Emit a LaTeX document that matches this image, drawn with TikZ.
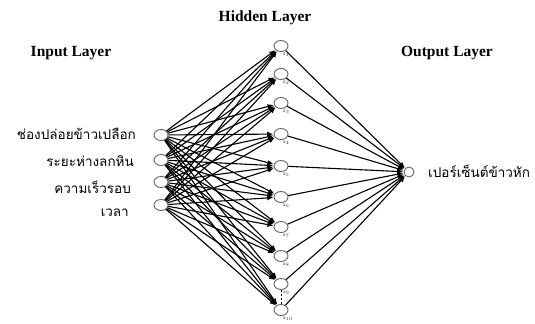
\documentclass[tikz,border=0pt]{standalone}
\usepackage{fontspec}
\setmainfont{Liberation Serif}
\newfontfamily\thaifont[Script=Thai]{Loma}
\usetikzlibrary{arrows.meta,shapes.geometric}
\definecolor{sublbl}{RGB}{80,40,160}
\tikzset{
  neuron/.style={draw=black!60, line width=0.9bp, fill=white, ellipse, minimum width=14bp, minimum height=11bp, inner sep=0pt},
  outneuron/.style={draw=black!60, line width=0.9bp, fill=white, circle, minimum size=10bp, inner sep=0pt},
  conn/.style={draw=black, line width=1.1bp, -{Latex[length=6bp,width=5bp]}, shorten >=0.3bp},
  title/.style={font=\fontsize{15.5bp}{17bp}\selectfont\bfseries, inner sep=0pt},
  thailbl/.style={font=\thaifont\fontsize{13.5bp}{15bp}\selectfont, inner sep=0pt},
  alabel/.style={font=\fontsize{5.5bp}{6bp}\selectfont, text=sublbl, inner sep=0pt}
}
\begin{document}
\begin{tikzpicture}[x=1bp,y=-1bp]
\useasboundingbox (0,0) rectangle (535,323);
% titles
\node[title] (tin) at (71,53) {Input Layer};
\node[title] (thid) at (265,18) {Hidden Layer};
\node[title] (tout) at (447,53) {Output Layer};
% input neurons
\node[neuron] (i1) at (161,135) {};
\node[neuron] (i2) at (161,160) {};
\node[neuron] (i3) at (161,182) {};
\node[neuron] (i4) at (161,205) {};
% hidden neurons
\foreach \j/\yy in {1/46,2/74,3/103,4/134,5/166,6/197,7/227,8/256,9/284,10/310}{
  \node[neuron] (h\j) at (281,\yy) {};
}
% output neuron
\node[outneuron] (o) at (409,172) {};
% connections
\foreach \i in {1,...,4}{
  \foreach \j in {1,...,10}{
    \draw[conn] (i\i) -- (h\j);
  }
}
\foreach \j in {1,...,10}{
  \draw[conn] (h\j) -- (o);
}
\draw[black, line width=0.9bp, dashed, dash pattern=on 2bp off 2bp] (h9) -- (h10);
% hidden labels
\foreach \j/\yy in {1/46,2/74,3/103,4/134,5/166,6/197,7/227,8/256,9/284,10/310}{
  \node[alabel, anchor=north west] (al\j) at (283,\yy+7) {a$_{\j}$};
}
% labels
\node[thailbl, anchor=east] (l1) at (136,134) {ช่องปล่อยข้าวเปลือก};
\node[thailbl, anchor=east] (l2) at (134,161) {ระยะห่างลกหิน};
\node[thailbl, anchor=east] (l3) at (131,187) {ความเร็วรอบ};
\node[thailbl, anchor=east] (l4) at (129,213) {เวลา};
\node[thailbl, anchor=west] (lo) at (428,171) {เปอร์เซ็นต์ข้าวหัก};
\end{tikzpicture}
\end{document}
